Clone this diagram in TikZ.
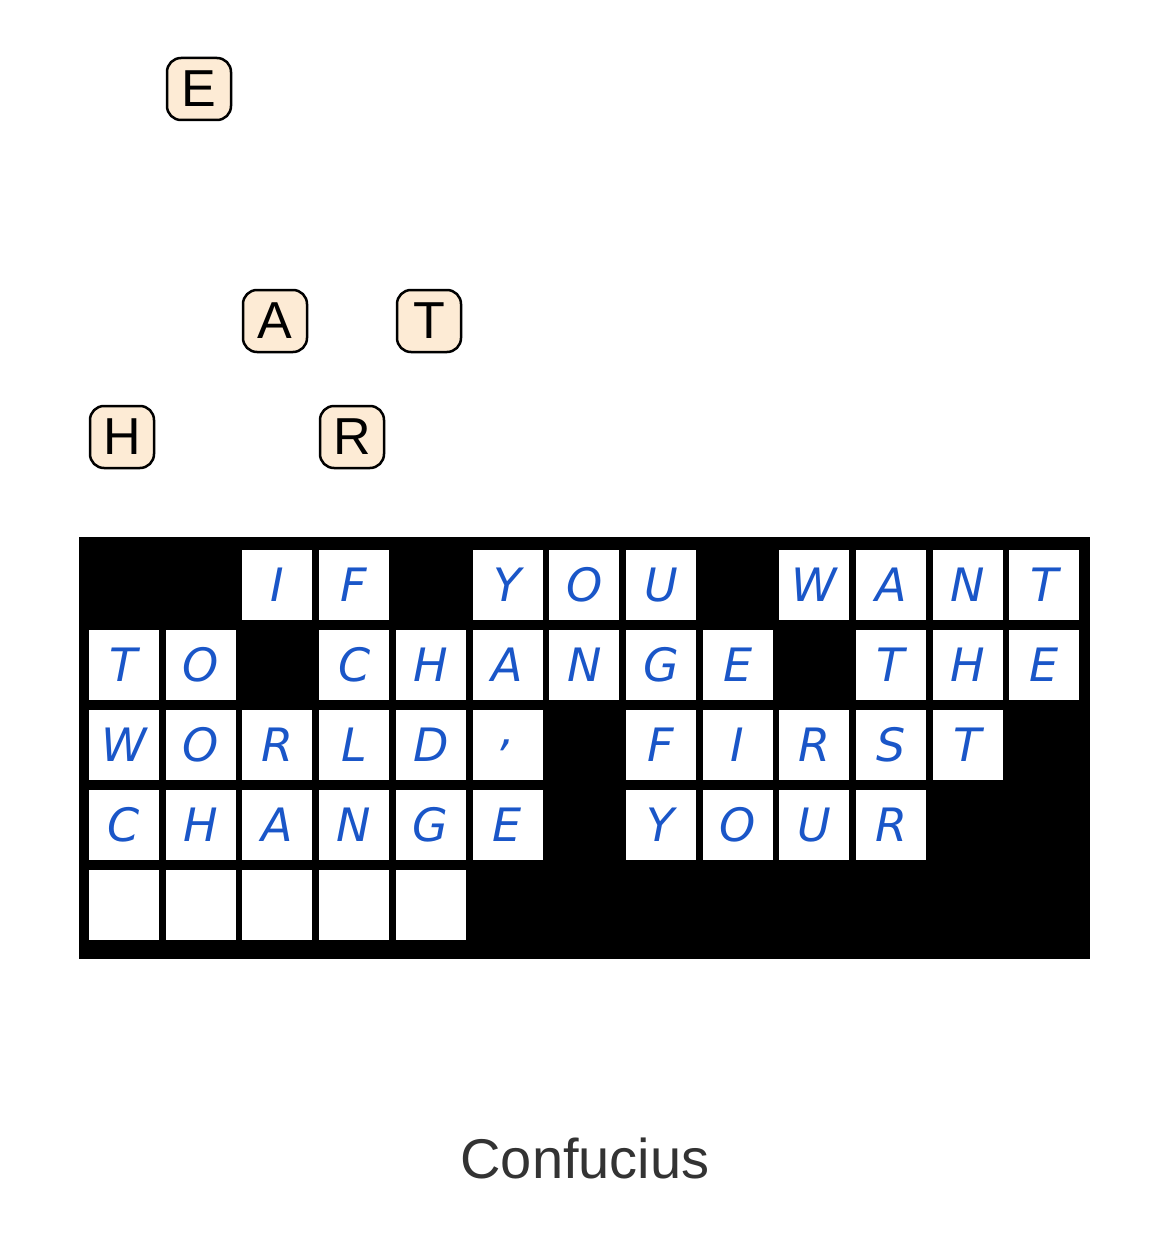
\documentclass[tikz,border=0pt]{standalone}
\usepackage{fontspec}
\setmainfont{Liberation Sans}
\newfontfamily\handfont{DejaVu Sans}
\usetikzlibrary{positioning}
\definecolor{peach}{HTML}{FDEBD5}
\definecolor{ink}{HTML}{1A56C8}

\begin{document}
\begin{tikzpicture}[x=1pt,y=-1pt,
    cell/.style={draw=none,fill=white,minimum width=70pt,minimum height=70pt,inner sep=0pt,
                 font=\handfont\fontsize{46}{46}\selectfont\itshape,text=ink},
    tile/.style={draw,line width=2.5pt,fill=peach,rounded corners=14pt,minimum width=64pt,
                 minimum height=62pt,inner sep=0pt,font=\fontsize{52}{52}\selectfont}]
    \useasboundingbox (0,0) rectangle (1170,1244);

    \node[tile] (E) at (199,89) {E};
    \node[tile] (A) at (275,321) {A};
    \node[tile] (T) at (429,321) {T};
    \node[tile] (H) at (122,437) {H};
    \node[tile] (R) at (352,437) {R};

    \fill (79,537) rectangle (1090,959);

    \foreach \r/\cells in {
        0/{2/I,3/F,5/Y,6/O,7/U,9/W,10/A,11/N,12/T},
        1/{0/T,1/O,3/C,4/H,5/A,6/N,7/G,8/E,10/T,11/H,12/E},
        2/{0/W,1/O,2/R,3/L,4/D,5/{,},7/F,8/I,9/R,10/S,11/T},
        3/{0/C,1/H,2/A,3/N,4/G,5/E,7/Y,8/O,9/U,10/R},
        4/{0/{},1/{},2/{},3/{},4/{}}}
      \foreach \c/\l in \cells
        \node[cell] (c\r-\c) at (124+76.7*\c,585+80*\r) {\l};

    \node[font=\fontsize{56}{56}\selectfont,text=black!80] (author) at (585,1158) {Confucius};
\end{tikzpicture}
\end{document}
